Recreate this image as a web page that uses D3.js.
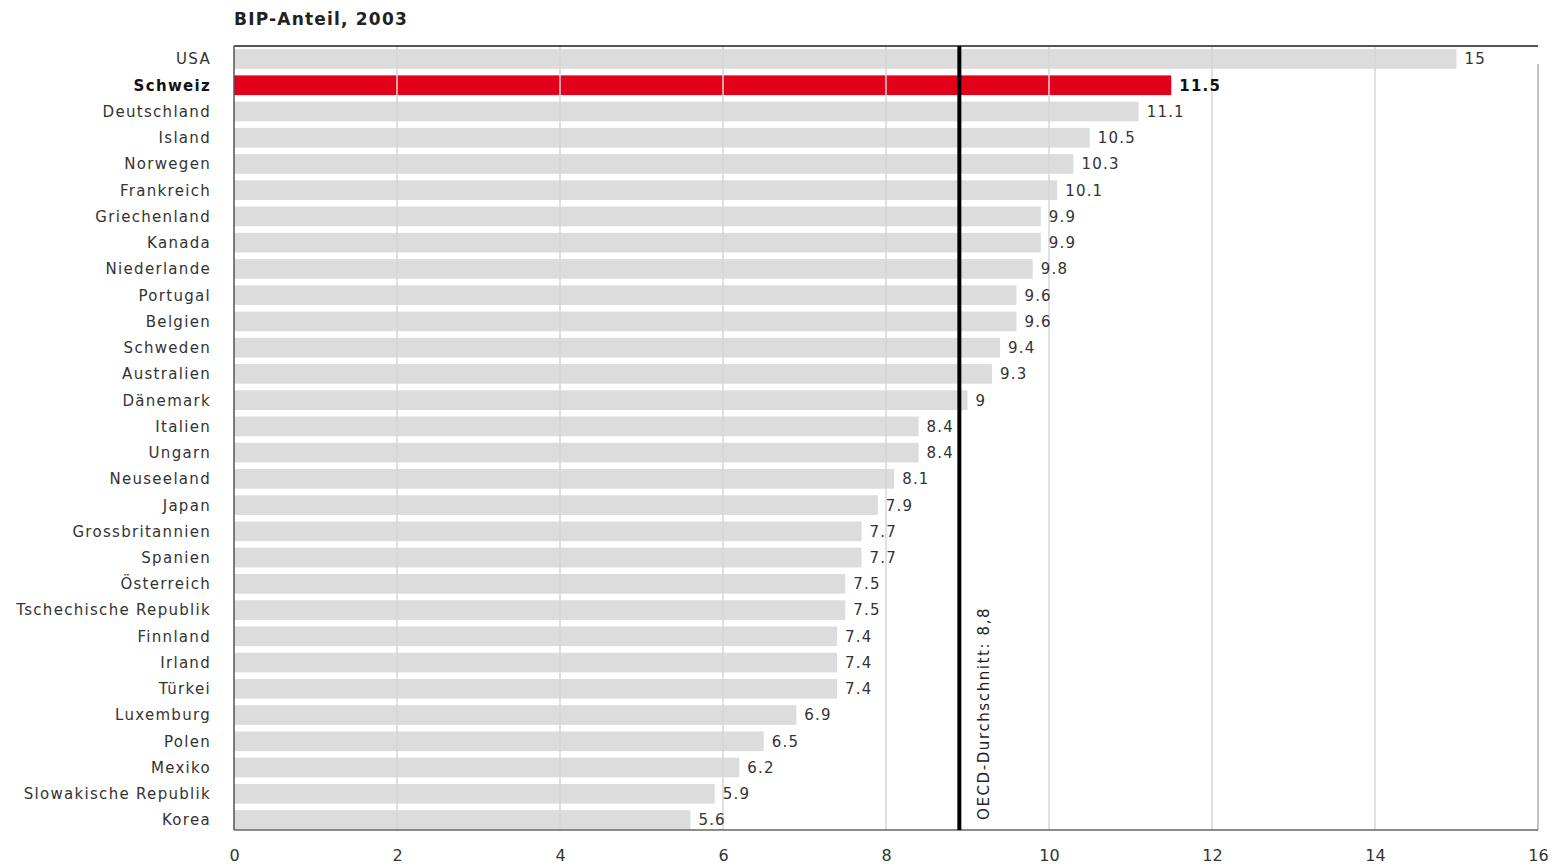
<!DOCTYPE html>
<html>
<head>
<meta charset="utf-8">
<script src="https://cdn.jsdelivr.net/npm/d3@7"></script>
<style>
  body { margin: 0; background: #fff; }
  text { font-family: "DejaVu Sans", Verdana, sans-serif; }
</style>
</head>
<body>
<div id="grafica"></div>
<script>
// data
var countries = ["USA", "Schweiz", "Deutschland", "Island", "Norwegen", "Frankreich",
  "Griechenland", "Kanada", "Niederlande", "Portugal", "Belgien", "Schweden",
  "Australien", "Dänemark", "Italien", "Ungarn", "Neuseeland", "Japan",
  "Grossbritannien", "Spanien", "Österreich", "Tschechische Republik", "Finnland",
  "Irland", "Türkei", "Luxemburg", "Polen", "Mexiko", "Slowakische Republik", "Korea"];
var values = [15, 11.5, 11.1, 10.5, 10.3, 10.1, 9.9, 9.9, 9.8, 9.6, 9.6, 9.4, 9.3, 9,
  8.4, 8.4, 8.1, 7.9, 7.7, 7.7, 7.5, 7.5, 7.4, 7.4, 7.4, 6.9, 6.5, 6.2, 5.9, 5.6];
var xTicks = [0, 2, 4, 6, 8, 10, 12, 14, 16];
var highlight = "Schweiz";
var oecdValue = 8.9;   // position of the line as drawn
var oecdLabel = "OECD-Durchschnitt: 8,8";
var title = "BIP-Anteil, 2003";

var data = countries.map(function(c, i) { return { land: c, wert: values[i] }; });

var W = 1564, H = 866;
var pLeft = 234, pRight = 1538, pTop = 46, pBottom = 830;

var svg = d3.select("#grafica")
  .append("svg")
  .attr("width", W)
  .attr("height", H);

var x = d3.scaleLinear().domain([0, 16]).range([pLeft, pRight]);
var y = d3.scaleBand().domain(countries).range([pTop, pBottom + 3]).paddingInner(0.25).paddingOuter(0.12);

// title
svg.append("text")
  .attr("x", pLeft)
  .attr("y", 25)
  .style("font-size", "17px")
  .style("font-weight", "bold")
  .style("letter-spacing", "1.2px")
  .attr("fill", "#222")
  .text(title);

// bars
svg.selectAll(".bar")
  .data(data)
  .enter().append("rect")
  .attr("x", x(0))
  .attr("y", function(d) { return y(d.land); })
  .attr("width", function(d) { return x(d.wert) - x(0); })
  .attr("height", y.bandwidth())
  .attr("fill", function(d) { return d.land === highlight ? "#e2001a" : "#dcdcdd"; });

// gridlines on top of the bars
svg.selectAll(".grid")
  .data(xTicks.slice(1))
  .enter().append("line")
  .attr("x1", function(d) { return x(d); })
  .attr("x2", function(d) { return x(d); })
  .attr("y1", function(d) { return d === 16 ? pTop + 18 : pTop; })
  .attr("y2", pBottom)
  .attr("stroke", function(d) { return d === 16 ? "#c4c4c4" : "#d6d6d6"; })
  .attr("stroke-width", function(d) { return d === 16 ? 2 : 1.5; });

// frame: top, left and bottom lines
svg.append("line")
  .attr("x1", pLeft).attr("x2", pRight).attr("y1", pTop).attr("y2", pTop)
  .attr("stroke", "#555").attr("stroke-width", 2);
svg.append("line")
  .attr("x1", pLeft).attr("x2", pLeft).attr("y1", pTop).attr("y2", pBottom)
  .attr("stroke", "#555").attr("stroke-width", 1.5);
svg.append("line")
  .attr("x1", pLeft).attr("x2", pRight).attr("y1", pBottom).attr("y2", pBottom)
  .attr("stroke", "#666").attr("stroke-width", 1.5);

// OECD average
svg.append("line")
  .attr("x1", x(oecdValue)).attr("x2", x(oecdValue))
  .attr("y1", pTop).attr("y2", pBottom)
  .attr("stroke", "#000").attr("stroke-width", 4);
svg.append("text")
  .attr("transform", "translate(" + (x(oecdValue) + 30) + "," + (pBottom - 10) + ") rotate(-90)")
  .style("font-size", "15px")
  .style("letter-spacing", "1.6px")
  .attr("fill", "#222")
  .text(oecdLabel);

// country labels
svg.selectAll(".land")
  .data(data)
  .enter().append("text")
  .attr("x", 211)
  .attr("y", function(d) { return y(d.land) + y.bandwidth() / 2; })
  .attr("dy", "0.36em")
  .attr("text-anchor", "end")
  .style("font-size", "15px")
  .style("letter-spacing", "1.3px")
  .style("font-weight", function(d) { return d.land === highlight ? "bold" : "normal"; })
  .attr("fill", function(d) { return d.land === highlight ? "#111" : "#333"; })
  .text(function(d) { return d.land; });

// value labels
svg.selectAll(".wert")
  .data(data)
  .enter().append("text")
  .attr("x", function(d) { return x(d.wert) + 8; })
  .attr("y", function(d) { return y(d.land) + y.bandwidth() / 2; })
  .attr("dy", "0.36em")
  .style("font-size", "15px")
  .style("letter-spacing", "1.2px")
  .style("font-weight", function(d) { return d.land === highlight ? "bold" : "normal"; })
  .attr("fill", function(d) { return d.land === highlight ? "#111" : "#333"; })
  .text(function(d) { return d.wert; });

// x axis
var xAxis = svg.append("g")
  .attr("transform", "translate(0," + pBottom + ")")
  .call(d3.axisBottom(x).tickValues(xTicks).tickSize(0).tickPadding(20).tickFormat(d3.format("d")));
xAxis.select(".domain").remove();
xAxis.selectAll("text")
  .style("font-size", "16px")
  .style("font-family", "'DejaVu Sans', Verdana, sans-serif")
  .attr("fill", "#333");
</script>
</body>
</html>
